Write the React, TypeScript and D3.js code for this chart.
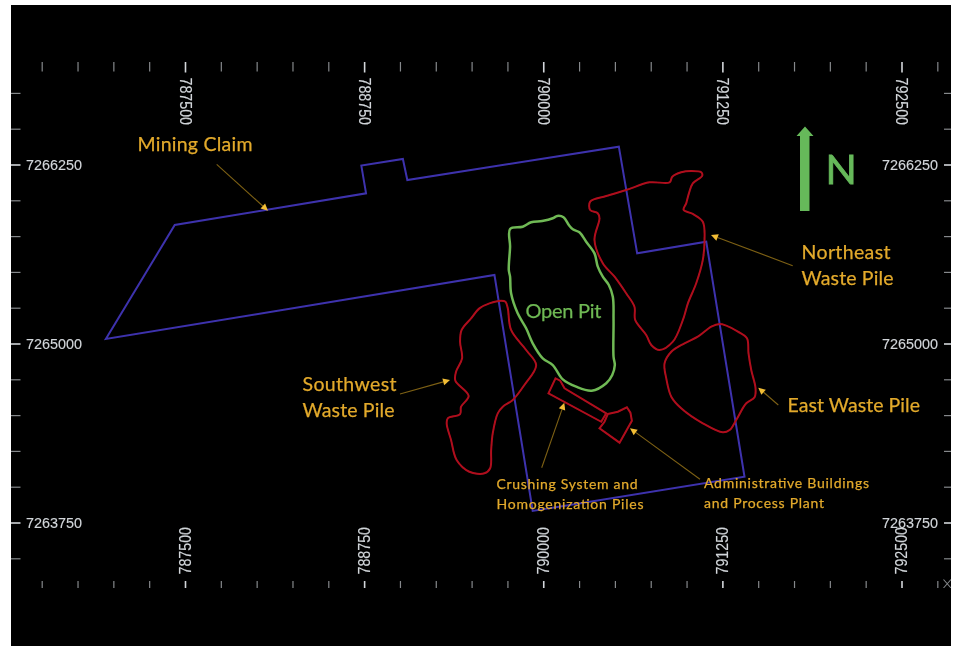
import React from "react";
import * as d3 from "d3";

type Pt = [number, number];

// Map coordinates (easting, northing)
const xMajorTicks = [787500, 788750, 790000, 791250, 792500];
const xMinorTicks = [
  786500, 786750, 787000, 787250, 787750, 788000, 788250, 788500, 789000, 789250, 789500, 789750,
  790250, 790500, 790750, 791000, 791500, 791750, 792000, 792250, 792750,
];
const yMajorTicks = [7266250, 7265000, 7263750];
const yMinorTicks = [
  7266750, 7266500, 7266000, 7265750, 7265500, 7265250, 7264750, 7264500, 7264250, 7264000, 7263500,
];

const miningClaim: Pt[] = [
  [786944, 7265035], [787425, 7265831], [788760, 7266052], [788727, 7266246], [789017, 7266292],
  [789048, 7266145], [790524, 7266378], [790652, 7265633], [791134, 7265714], [791401, 7264073],
  [789923, 7263834], [789656, 7265482],
];
const openPit: Pt[] = [
  [789765, 7265803], [789853, 7265819], [789912, 7265850], [789989, 7265859], [790063, 7265878],
  [790094, 7265894], [790138, 7265885], [790175, 7265831], [790203, 7265801], [790249, 7265780],
  [790296, 7265714], [790354, 7265633], [790377, 7265540], [790412, 7265470], [790454, 7265412],
  [790482, 7265330], [790487, 7265168], [790487, 7264911], [790496, 7264853], [790478, 7264784],
  [790436, 7264726], [790335, 7264674], [790226, 7264702], [790133, 7264753], [790063, 7264853],
  [789993, 7264900], [789923, 7265005], [789877, 7265110], [789818, 7265214], [789772, 7265354],
  [789765, 7265470], [789756, 7265517], [789765, 7265679],
];
const northeastPile: Pt[] = [
  [790324, 7265994], [790436, 7266033], [790575, 7266075], [790738, 7266129], [790878, 7266129],
  [790897, 7266168], [790959, 7266199], [791029, 7266208], [791099, 7266199], [791106, 7266175],
  [791040, 7266122], [791013, 7266052], [790994, 7265982], [790976, 7265936], [791040, 7265908],
  [791110, 7265854], [791122, 7265726], [791110, 7265587], [791064, 7265424], [791006, 7265284],
  [790971, 7265168], [790901, 7265016], [790808, 7264958], [790750, 7264993], [790715, 7265063],
  [790638, 7265168], [790633, 7265260], [790575, 7265354], [790494, 7265470], [790412, 7265564],
  [790354, 7265726], [790389, 7265878], [790377, 7265913], [790324, 7265936],
];
const southwestPile: Pt[] = [
  [789703, 7265302], [789621, 7265284], [789551, 7265249], [789493, 7265179], [789427, 7265098],
  [789416, 7265016], [789430, 7264900], [789388, 7264807], [789383, 7264744], [789476, 7264637],
  [789423, 7264562], [789416, 7264511], [789330, 7264481], [789323, 7264441], [789353, 7264330],
  [789392, 7264190], [789481, 7264108], [789586, 7264097], [789626, 7264132], [789633, 7264260],
  [789644, 7264376], [789679, 7264516], [789714, 7264562], [789784, 7264609], [789865, 7264714],
  [789947, 7264853], [789877, 7264958], [789772, 7265098], [789749, 7265249], [789733, 7265295],
];
const eastPile: Pt[] = [
  [791227, 7265140], [791169, 7265121], [791075, 7265051], [790982, 7265005], [790890, 7264946],
  [790843, 7264865], [790855, 7264760], [790890, 7264632], [790959, 7264551], [791110, 7264446],
  [791250, 7264383], [791297, 7264399], [791343, 7264469], [791413, 7264586], [791471, 7264628],
  [791478, 7264691], [791448, 7264818], [791429, 7264935], [791418, 7265040], [791355, 7265086],
  [791274, 7265128],
];
const crushingSystem: Pt[] = [
  [790082, 7264760], [790115, 7264744], [790145, 7264691], [790436, 7264516], [790401, 7264457],
  [790033, 7264656],
];
const processPlant: Pt[] = [
  [790447, 7264511], [790517, 7264527], [790580, 7264558], [790605, 7264520], [790615, 7264464],
  [790529, 7264311], [790389, 7264411], [790424, 7264457],
];

// Annotation text and leader lines (page layout)
const labels = [
  { lines: ["Mining Claim"], x: 137.5, y: [150.5], size: 19.5, w: [115] },
  { lines: ["Northeast", "Waste Pile"], x: 801.5, y: [259, 285], size: 19.5, w: [89, 92] },
  { lines: ["Southwest", "Waste Pile"], x: 302.5, y: [391, 417], size: 19.5, w: [94, 92] },
  { lines: ["East Waste Pile"], x: 787.5, y: [411.5], size: 19.5, w: [132.5] },
  { lines: ["Crushing System and", "Homogenization Piles"], x: 496.5, y: [489, 509], size: 14, w: [141, 147] },
  { lines: ["Administrative Buildings", "and Process Plant"], x: 704, y: [488, 508], size: 14, w: [165, 120] },
];
const leaders: [number, number, number, number][] = [
  [216.7, 164.3, 268, 210.7],
  [792.7, 265.7, 711, 235],
  [400, 394, 450, 380],
  [778.3, 405, 758.3, 387.7],
  [541.7, 467.7, 564.3, 402.7],
  [700, 479.3, 630, 428.3],
];

const W = 955;
const H = 646;
const AMBER = "#e3aa2c";
const GREEN = "#6fb954";
const TICK = "#d2d6da";

const x = d3.scaleLinear().domain([787500, 792500]).range([185.5, 902]);
const y = d3.scaleLinear().domain([7265000, 7266250]).range([344, 165]);

const toXY = (p: Pt): [number, number] => [x(p[0]), y(p[1])];
const straight = d3.line().curve(d3.curveLinearClosed);
const smooth = d3.line().curve(d3.curveCatmullRomClosed.alpha(0.5));
const pathOf = (pts: Pt[], gen: d3.Line<[number, number]>) => gen(pts.map(toXY)) ?? "";

function Leader({ l }: { l: [number, number, number, number] }) {
  const [x0, y0, x1, y1] = l;
  const a = Math.atan2(y1 - y0, x1 - x0);
  const len = 7;
  const hw = 3.4;
  const bx = x1 - len * Math.cos(a);
  const by = y1 - len * Math.sin(a);
  const nx = -Math.sin(a) * hw;
  const ny = Math.cos(a) * hw;
  return (
    <g>
      <line x1={x0} y1={y0} x2={bx} y2={by} stroke="#7d6014" strokeWidth={1.1} />
      <polygon points={`${x1},${y1} ${bx + nx},${by + ny} ${bx - nx},${by - ny}`} fill="#f2bd35" />
    </g>
  );
}

export default function App() {
  const sans = "'Liberation Sans', Arial, sans-serif";
  const label = "Lato, 'Open Sans', sans-serif";
  return (
    <svg
      width={W}
      height={H}
      viewBox={`0 0 ${W} ${H}`}
      style={{ position: "absolute", left: 0, top: 0, display: "block", background: "#fff" }}
    >
      <defs>
        <filter id="soft" x="0" y="0" width="100%" height="100%">
          <feGaussianBlur stdDeviation="0.45" />
        </filter>
      </defs>
      <rect x={11} y={5} width={940} height={641} fill="#000" />

      <g filter="url(#soft)">
        {/* Ticks */}
        {xMinorTicks.map((t) => (
          <g key={t} stroke="#85888b" strokeWidth={1.2}>
            <line x1={x(t)} x2={x(t)} y1={62} y2={71.5} />
            <line x1={x(t)} x2={x(t)} y1={581} y2={588} />
          </g>
        ))}
        {xMajorTicks.map((t) => (
          <g key={t} stroke={TICK} strokeWidth={1.6}>
            <line x1={x(t)} x2={x(t)} y1={62} y2={72.5} />
            <line x1={x(t)} x2={x(t)} y1={581} y2={588} />
          </g>
        ))}
        {yMinorTicks.map((t) => (
          <g key={t} stroke="#85888b" strokeWidth={1.2}>
            <line x1={11} x2={20.5} y1={y(t)} y2={y(t)} />
            <line x1={944} x2={951} y1={y(t)} y2={y(t)} />
          </g>
        ))}
        {yMajorTicks.map((t) => (
          <g key={t} stroke={TICK} strokeWidth={1.6}>
            <line x1={11} x2={20.5} y1={y(t)} y2={y(t)} />
            <line x1={944} x2={951} y1={y(t)} y2={y(t)} />
          </g>
        ))}
        <path d="M943.5,579.5 L951,588 M951,579.5 L943.5,588" stroke="#85888b" strokeWidth={1.1} fill="none" />

        {/* Tick labels */}
        <g fill={TICK} fontFamily={sans} stroke={TICK} strokeWidth={0.15}>
          {yMajorTicks.map((t) => (
            <g key={t} fontSize={15}>
              <text x={26} y={y(t) + 5.2} textLength={56} lengthAdjust="spacingAndGlyphs">{t}</text>
              <text x={882} y={y(t) + 5.2} textLength={56} lengthAdjust="spacingAndGlyphs">{t}</text>
            </g>
          ))}
          {xMajorTicks.map((t) => (
            <g key={t} fontSize={16}>
              <text
                transform={`translate(${x(t) - 5.6},77.5) rotate(90)`}
                textLength={47.5}
                lengthAdjust="spacingAndGlyphs"
              >
                {t}
              </text>
              <text
                transform={`translate(${x(t) + 5.2},574.5) rotate(-90)`}
                textLength={47.5}
                lengthAdjust="spacingAndGlyphs"
              >
                {t}
              </text>
            </g>
          ))}
        </g>

        {/* Outlines */}
        <path d={pathOf(miningClaim, straight as any)} fill="none" stroke="#3e32ad" strokeWidth={2} />
        {[northeastPile, southwestPile, eastPile].map((p, i) => (
          <path key={i} d={pathOf(p, smooth as any)} fill="none" stroke="#b0101e" strokeWidth={2} />
        ))}
        <path d={pathOf(crushingSystem, straight as any)} fill="none" stroke="#b0101e" strokeWidth={2} />
        <path d={pathOf(processPlant, straight as any)} fill="none" stroke="#b0101e" strokeWidth={2} />
        <path d={pathOf(openPit, smooth as any)} fill="none" stroke={GREEN} strokeWidth={2.5} />

        {/* Leaders and labels */}
        {leaders.map((l, i) => (
          <Leader key={i} l={l} />
        ))}
        <g fill={AMBER} stroke={AMBER} strokeWidth={0.25} fontFamily={label}>
          {labels.map((l) =>
            l.lines.map((s, i) => (
              <text
                key={s + l.x}
                x={l.x}
                y={l.y[i]}
                fontSize={l.size}
                textLength={l.w[i]}
                lengthAdjust="spacing"
              >
                {s}
              </text>
            )),
          )}
        </g>
        <text
          x={525.5}
          y={318}
          fontFamily={label}
          fontSize={20}
          fill={GREEN}
          stroke={GREEN}
          strokeWidth={0.25}
          textLength={76}
        >
          Open Pit
        </text>

        {/* North arrow */}
        <polygon
          points="805,126.5 813.5,136 809.5,136 809.5,211 800,211 800,136 796.5,136"
          fill="#66b95a"
        />
        <text x={825.5} y={184} fontFamily={label} fontSize={41} fill="#66b95a" stroke="#66b95a" strokeWidth={0.9}>
          N
        </text>
      </g>
    </svg>
  );
}
